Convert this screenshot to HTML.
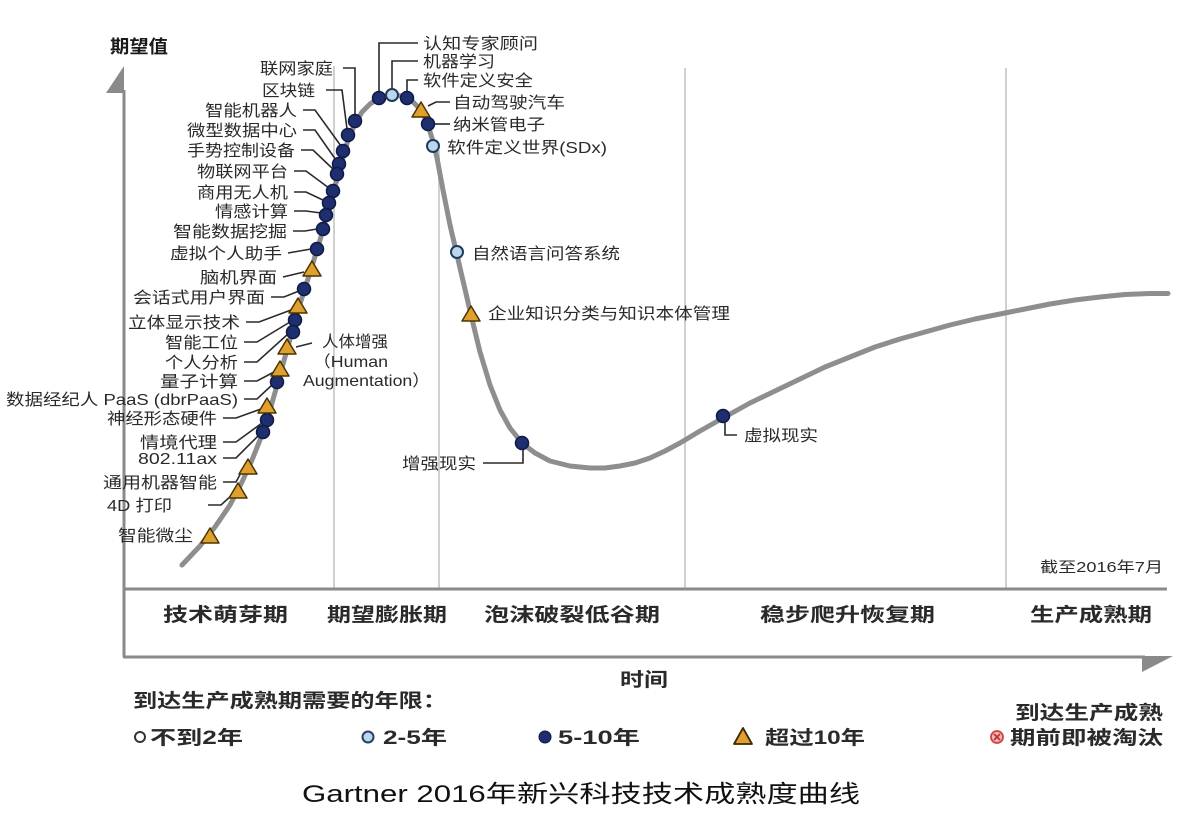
<!DOCTYPE html>
<html><head><meta charset="utf-8"><style>
html,body{margin:0;padding:0;background:#fff;}
svg{display:block;}
text{font-family:"Liberation Sans","Noto Sans CJK SC",sans-serif;fill:#2a2a2a;}
.l{font-size:16px;}
.b{font-weight:bold;fill:#1a1a1a;}
</style></head><body>
<svg width="1182" height="817" viewBox="0 0 1182 817" xmlns="http://www.w3.org/2000/svg">
<rect width="1182" height="817" fill="#fff"/>
<!-- separators -->
<g stroke="#d0d0d0" stroke-width="2">
<line x1="334" y1="66" x2="334" y2="589"/>
<line x1="439" y1="150" x2="439" y2="589"/>
<line x1="685" y1="68" x2="685" y2="589"/>
<line x1="1006" y1="68" x2="1006" y2="589"/>
</g>
<!-- axes -->
<g stroke="#8a8a8a" stroke-width="3" fill="none">
<line x1="124" y1="90" x2="124" y2="657"/>
<line x1="123" y1="589" x2="1167" y2="589"/>
<line x1="123" y1="657" x2="1145" y2="657"/>
</g>
<polygon points="124,66 106,93 124,93" fill="#8a8a8a"/>
<polygon points="1142,656 1173,656 1142,672" fill="#8a8a8a"/>
<!-- curve -->
<polyline fill="none" stroke="#8e8e8e" stroke-width="5" stroke-linejoin="round" stroke-linecap="round"
points="182,565 200,546 215,527 230,505 242,482 252,460 262,435 270,410 278,382 285,357 292,332 299,307 306,285 313,263 320,240 327,215 334,190 341,166 345,150 349,137 355,124 362,112 370,104 379,98 392,95 402,96 412,101 420,109 427,122 432,138 437,158 443,190 450,225 457,255 464,285 471,315 480,352 490,385 500,410 510,428 522,443 535,453 550,461 570,466 590,468 605,468 620,466 635,463 650,458 665,451 680,443 700,431 723,418 750,403 775,391 800,379 825,367 850,357 875,347 900,339 925,332 950,325 975,319 1000,314 1025,309 1050,304 1075,300 1100,297 1125,294.5 1150,293.5 1168,293.5"/>
<!-- leader lines -->
<g stroke="#2a2a2a" stroke-width="1.6" fill="none">
<polyline points="343,68 355,68 355,116"/>
<polyline points="326,90 342,90 347,129"/>
<polyline points="303,110 315,110 341,146"/>
<polyline points="303,130 315,130 336,160"/>
<polyline points="301,150 313,150 334,170"/>
<polyline points="294,171 306,171 329,188"/>
<polyline points="294,192 306,192 325,201"/>
<polyline points="294,211 306,211 321,213"/>
<polyline points="293,231 305,231 317,229"/>
<polyline points="288,253 311,249"/>
<polyline points="283,277 304,272"/>
<polyline points="271,297 284,297 299,291"/>
<polyline points="246,322 259,322 291,310"/>
<polyline points="244,342 257,342 290,322"/>
<polyline points="244,362 257,362 288,334"/>
<polyline points="244,381 257,381 274,372"/>
<polyline points="244,399 257,399 272,385"/>
<polyline points="223,418 236,418 261,409"/>
<polyline points="223,442 236,442 262,423"/>
<polyline points="223,458 236,458 259,435"/>
<polyline points="223,482 236,482 242,471"/>
<polyline points="208,505 221,505 232,495"/>
<polyline points="296,347 312,343"/>
<polyline points="379,92 379,43 418,43"/>
<polyline points="392,89 392,61 418,61"/>
<polyline points="407,92 407,80 418,80"/>
<polyline points="428,106 436,102 450,102"/>
<polyline points="435,124 450,124"/>
<polyline points="483,463 523,463 523,449"/>
<polyline points="725,423 725,435 737,435"/>
</g>
<!-- markers: dark circles -->
<g fill="#1f2e6e" stroke="#0e1a45" stroke-width="1.5">
<circle cx="355" cy="121" r="6.5"/>
<circle cx="348" cy="135" r="6.5"/>
<circle cx="343" cy="151" r="6.5"/>
<circle cx="339" cy="164" r="6.5"/>
<circle cx="337" cy="174" r="6.5"/>
<circle cx="333" cy="191" r="6.5"/>
<circle cx="329" cy="203" r="6.5"/>
<circle cx="326" cy="215" r="6.5"/>
<circle cx="323" cy="229" r="6.5"/>
<circle cx="317" cy="249" r="6.5"/>
<circle cx="304" cy="289" r="6.5"/>
<circle cx="295" cy="320" r="6.5"/>
<circle cx="293" cy="332" r="6.5"/>
<circle cx="277" cy="382" r="6.5"/>
<circle cx="267" cy="420" r="6.5"/>
<circle cx="263" cy="432" r="6.5"/>
<circle cx="379" cy="98" r="6.5"/>
<circle cx="407" cy="98" r="6.5"/>
<circle cx="428" cy="124" r="6.5"/>
<circle cx="522" cy="443" r="6.5"/>
<circle cx="723" cy="416" r="6.5"/>
</g>
<!-- light circles -->
<g fill="#bcd6ea" stroke="#1e3a5f" stroke-width="2">
<circle cx="392" cy="95" r="6"/>
<circle cx="433" cy="146" r="6"/>
<circle cx="457" cy="252" r="6"/>
</g>
<!-- triangles -->
<g fill="#e0a030" stroke="#4a3300" stroke-width="1.5" stroke-linejoin="round">
<polygon points="312,261 303,276 321,276"/>
<polygon points="298,298 289,313 307,313"/>
<polygon points="287,339 278,354 296,354"/>
<polygon points="280,361 271,376 289,376"/>
<polygon points="267,398 258,413 276,413"/>
<polygon points="248,459 239,474 257,474"/>
<polygon points="238,483 229,498 247,498"/>
<polygon points="210,528 201,543 219,543"/>
<polygon points="421,102 412,117 430,117"/>
<polygon points="471,306 462,321 480,321"/>
</g>
<!-- left labels -->
<g class="l">
<text x="260" y="74" textLength="73" lengthAdjust="spacingAndGlyphs">联网家庭</text>
<text x="262" y="96" textLength="53" lengthAdjust="spacingAndGlyphs">区块链</text>
<text x="205" y="116" textLength="92" lengthAdjust="spacingAndGlyphs">智能机器人</text>
<text x="187" y="136" textLength="110" lengthAdjust="spacingAndGlyphs">微型数据中心</text>
<text x="187" y="156" textLength="108" lengthAdjust="spacingAndGlyphs">手势控制设备</text>
<text x="197" y="177" textLength="91" lengthAdjust="spacingAndGlyphs">物联网平台</text>
<text x="197" y="198" textLength="91" lengthAdjust="spacingAndGlyphs">商用无人机</text>
<text x="215" y="217" textLength="73" lengthAdjust="spacingAndGlyphs">情感计算</text>
<text x="173" y="237" textLength="114" lengthAdjust="spacingAndGlyphs">智能数据挖掘</text>
<text x="170" y="259" textLength="112" lengthAdjust="spacingAndGlyphs">虚拟个人助手</text>
<text x="200" y="283" textLength="77" lengthAdjust="spacingAndGlyphs">脑机界面</text>
<text x="133" y="303" textLength="132" lengthAdjust="spacingAndGlyphs">会话式用户界面</text>
<text x="128" y="328" textLength="112" lengthAdjust="spacingAndGlyphs">立体显示技术</text>
<text x="165" y="348" textLength="73" lengthAdjust="spacingAndGlyphs">智能工位</text>
<text x="165" y="368" textLength="73" lengthAdjust="spacingAndGlyphs">个人分析</text>
<text x="160" y="387" textLength="78" lengthAdjust="spacingAndGlyphs">量子计算</text>
<text x="6" y="405" textLength="232" lengthAdjust="spacingAndGlyphs">数据经纪人 PaaS (dbrPaaS)</text>
<text x="107" y="424" textLength="110" lengthAdjust="spacingAndGlyphs">神经形态硬件</text>
<text x="140" y="448" textLength="77" lengthAdjust="spacingAndGlyphs">情境代理</text>
<text x="138" y="464" textLength="79" lengthAdjust="spacingAndGlyphs">802.11ax</text>
<text x="103" y="488" textLength="114" lengthAdjust="spacingAndGlyphs">通用机器智能</text>
<text x="107" y="511" textLength="65" lengthAdjust="spacingAndGlyphs">4D 打印</text>
<text x="118" y="541" textLength="75" lengthAdjust="spacingAndGlyphs">智能微尘</text>
<text x="322" y="347" textLength="66" lengthAdjust="spacingAndGlyphs">人体增强</text>
<text x="313" y="367" textLength="75" lengthAdjust="spacingAndGlyphs">（Human</text>
<text x="303" y="386" textLength="127" lengthAdjust="spacingAndGlyphs">Augmentation）</text>
<!-- right labels -->
<text x="423" y="49" textLength="115" lengthAdjust="spacingAndGlyphs">认知专家顾问</text>
<text x="423" y="67" textLength="72" lengthAdjust="spacingAndGlyphs">机器学习</text>
<text x="423" y="86" textLength="110" lengthAdjust="spacingAndGlyphs">软件定义安全</text>
<text x="453" y="108" textLength="112" lengthAdjust="spacingAndGlyphs">自动驾驶汽车</text>
<text x="453" y="130" textLength="92" lengthAdjust="spacingAndGlyphs">纳米管电子</text>
<text x="447" y="153" textLength="160" lengthAdjust="spacingAndGlyphs">软件定义世界(SDx)</text>
<text x="472" y="259" textLength="148" lengthAdjust="spacingAndGlyphs">自然语言问答系统</text>
<text x="488" y="319" textLength="242" lengthAdjust="spacingAndGlyphs">企业知识分类与知识本体管理</text>
<text x="402" y="469" textLength="74" lengthAdjust="spacingAndGlyphs">增强现实</text>
<text x="744" y="441" textLength="74" lengthAdjust="spacingAndGlyphs">虚拟现实</text>
<text x="1040" y="572" font-size="15" textLength="123" lengthAdjust="spacingAndGlyphs">截至2016年7月</text>
</g>
<!-- axis titles -->
<text class="b" x="110" y="53" font-size="18" textLength="58" lengthAdjust="spacingAndGlyphs">期望值</text>
<g class="b" font-size="19">
<text x="163" y="621" textLength="125" lengthAdjust="spacingAndGlyphs">技术萌芽期</text>
<text x="327" y="621" textLength="120" lengthAdjust="spacingAndGlyphs">期望膨胀期</text>
<text x="484" y="621" textLength="176" lengthAdjust="spacingAndGlyphs">泡沫破裂低谷期</text>
<text x="760" y="621" textLength="175" lengthAdjust="spacingAndGlyphs">稳步爬升恢复期</text>
<text x="1030" y="621" textLength="122" lengthAdjust="spacingAndGlyphs">生产成熟期</text>
<text x="620" y="686" textLength="48" lengthAdjust="spacingAndGlyphs">时间</text>
<text x="133" y="707" textLength="314" lengthAdjust="spacingAndGlyphs">到达生产成熟期需要的年限：</text>
<text x="150" y="744" textLength="93" lengthAdjust="spacingAndGlyphs">不到2年</text>
<text x="383" y="744" textLength="64" lengthAdjust="spacingAndGlyphs">2-5年</text>
<text x="558" y="744" textLength="82" lengthAdjust="spacingAndGlyphs">5-10年</text>
<text x="765" y="744" textLength="100" lengthAdjust="spacingAndGlyphs">超过10年</text>
<text x="1015" y="719" textLength="148" lengthAdjust="spacingAndGlyphs">到达生产成熟</text>
<text x="1010" y="744" textLength="153" lengthAdjust="spacingAndGlyphs">期前即被淘汰</text>
</g>
<!-- legend icons -->
<circle cx="140" cy="737" r="5" fill="#fff" stroke="#333" stroke-width="2"/>
<circle cx="368" cy="737" r="5.5" fill="#bcd6ea" stroke="#2a3f5f" stroke-width="2"/>
<circle cx="545" cy="737" r="6" fill="#1f2e6e" stroke="#0e1a45" stroke-width="1"/>
<polygon points="743,728 734,744 752,744" fill="#e0a030" stroke="#3a2800" stroke-width="1.8" stroke-linejoin="round"/>
<circle cx="997" cy="737" r="6" fill="#f2b8b8" stroke="#d04040" stroke-width="1.8"/>
<g stroke="#c03030" stroke-width="1.8"><line x1="994" y1="734" x2="1000" y2="740"/><line x1="1000" y1="734" x2="994" y2="740"/></g>
<!-- caption -->
<text x="302" y="802" font-size="24" textLength="558" lengthAdjust="spacingAndGlyphs" style="fill:#111">Gartner 2016年新兴科技技术成熟度曲线</text>
</svg>
</body></html>
